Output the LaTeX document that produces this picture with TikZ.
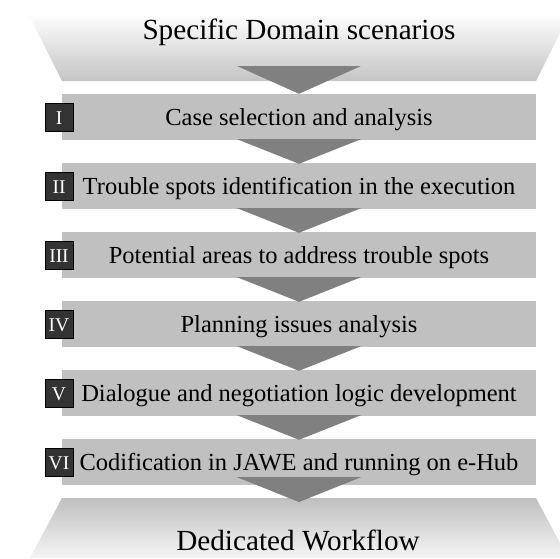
\documentclass[tikz,border=0pt]{standalone}
\usepackage{fontspec}
\setmainfont{Liberation Serif}
\usetikzlibrary{calc}
\definecolor{barfill}{HTML}{C0C0C0}
\definecolor{chev}{HTML}{808080}
\definecolor{numbox}{HTML}{333333}
\begin{document}
\begin{tikzpicture}[x=1pt,y=-1pt,
  stage/.style={fill=barfill, minimum width=474pt, minimum height=46pt,
    inner sep=0pt, text height=19pt, text depth=3pt,
    font=\fontsize{24.5}{29}\selectfont},
  numeral/.style={fill=numbox, draw=black, line width=0.6pt, text=white,
    minimum width=28pt, minimum height=28pt, inner sep=0pt,
    text height=18pt, text depth=3pt,
    font=\fontsize{19.5}{23}\selectfont},
  chevron/.style={fill=chev},
  funnel/.style={anchor=base, inner sep=0pt, font=\fontsize{29.2}{35}\selectfont}]
\useasboundingbox (0,0) rectangle (560,558);
\clip (0,0) rectangle (560,558);

% upper funnel
\shade[top color=white, bottom color=black!23]
  (28,13) -- (570,13) -- (536,81) -- (62,81) -- cycle;
\node[funnel] (src) at (299,39) {Specific Domain scenarios};
\coordinate (src-out) at (299,66);

% lower funnel
\shade[top color=black!25, bottom color=black!4]
  (62,498) -- (536,498) -- (568,558) -- (30,558) -- cycle;
\node[funnel] (dst) at (298,550) {Dedicated Workflow};
\coordinate (dst-in) at (299,502);

% stages
\node[stage] (s1) at (299,117) {Case selection and analysis};
\node[stage] (s2) at (299,186) {Trouble spots identification in the execution};
\node[stage] (s3) at (299,255) {Potential areas to address trouble spots};
\node[stage] (s4) at (299,324) {Planning issues analysis};
\node[stage] (s5) at (299,393) {Dialogue and negotiation logic development};
\node[stage] (s6) at (299,462) {Codification in JAWE and running on e-Hub};

% stage numbers
\node[numeral] (n1) at (59,117) {I};
\node[numeral] (n2) at (59,186) {II};
\node[numeral] (n3) at (59,255) {III};
\node[numeral] (n4) at (59,324) {IV};
\node[numeral] (n5) at (59,393) {V};
\node[numeral] (n6) at (59,462) {VI};

% chevrons between the stages
\fill[chevron] ($(src-out)+(-62,0)$) -- ($(src-out)+(62,0)$) -- (s1.north) -- cycle;
\foreach \a/\b in {s1/s2,s2/s3,s3/s4,s4/s5,s5/s6}{
  \fill[chevron] ($(\a.south)+(-62,-1)$) -- ($(\a.south)+(62,-1)$)
    -- ($(\b.north)+(0,1)$) -- cycle;
}
\fill[chevron] ($(s6.south)+(-62,-8)$) -- ($(s6.south)+(62,-8)$) -- (dst-in) -- cycle;
\end{tikzpicture}
\end{document}
